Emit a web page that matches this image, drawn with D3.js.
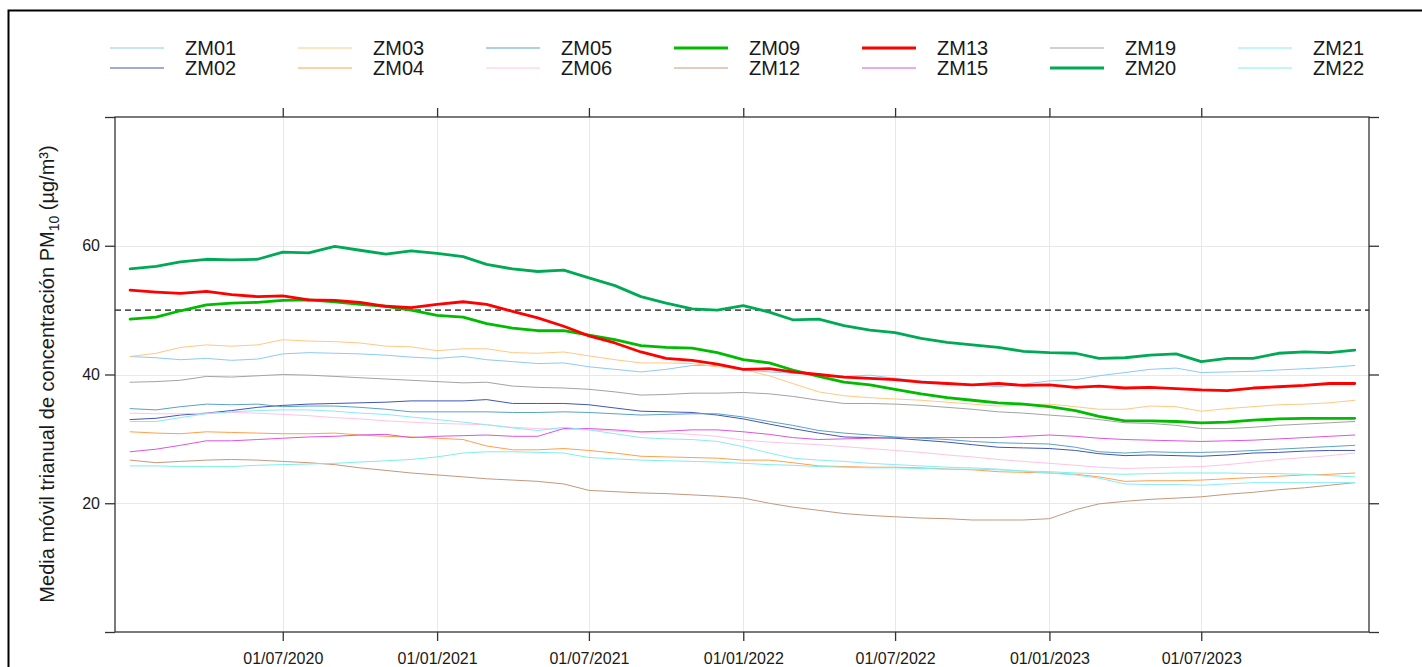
<!DOCTYPE html>
<html>
<head>
<meta charset="utf-8">
<script src="https://cdn.jsdelivr.net/npm/d3@7"></script>
<style>
  body { margin: 0; background: #fff; }
  svg { display: block; }
  text { font-family: "Liberation Sans", Arial, sans-serif; fill: #1a1a1a; }
</style>
</head>
<body>
<svg id="chart" width="1422" height="667"></svg>
<script>
// monthly samples, 1 Jan 2020 .. 1 Dec 2023, plus 31 Dec 2023
const dates = d3.timeMonth.range(new Date(2020, 0, 1), new Date(2024, 0, 1))
    .concat([new Date(2023, 11, 31)]);

const xTicks = ["2020-07-01", "2021-01-01", "2021-07-01", "2022-01-01", "2022-07-01", "2023-01-01", "2023-07-01"];
const yTicks = [20, 40, 60];
const limitValue = 50;

const zm01 = [42.8,42.6,42.3,42.5,42.2,42.4,43.2,43.4,43.3,43.2,43.0,42.7, 42.5,42.8,42.3,42.0,41.7,41.8,41.2,40.8,40.4,40.8,41.4,41.4, 40.7,40.4,40.2,39.9,39.7,39.9,39.4,39.0,38.7,38.4,38.1,38.5, 39.0,39.2,39.8,40.3,40.8,41.0,40.3,40.4,40.5,40.7,40.9,41.1, 41.4];
const zm02 = [33.0,33.2,33.7,34.0,34.4,34.9,35.2,35.4,35.5,35.6,35.7,35.9, 35.9,35.9,36.1,35.5,35.5,35.5,35.3,34.8,34.3,34.2,34.1,33.7, 33.1,32.3,31.6,30.9,30.3,30.2,30.1,29.8,29.5,29.1,28.7,28.6, 28.5,28.2,27.7,27.4,27.5,27.4,27.3,27.5,27.8,27.9,28.1,28.2, 28.2];
const zm03 = [42.8,43.3,44.2,44.6,44.4,44.6,45.4,45.2,45.1,44.9,44.4,44.3, 43.7,44.0,44.0,43.4,43.3,43.5,42.9,42.3,41.8,41.8,41.7,41.2, 40.8,39.8,38.6,37.3,36.7,36.4,36.2,36.0,35.7,35.4,35.1,35.3, 35.4,35.0,34.6,34.6,35.1,35.0,34.3,34.7,35.0,35.3,35.4,35.6, 36.0];
const zm04 = [31.1,30.9,30.8,31.1,31.0,30.9,30.8,30.8,30.9,30.6,30.4,30.3, 30.1,29.9,28.9,28.3,28.3,28.5,28.2,27.8,27.3,27.2,27.1,27.0, 26.7,26.7,26.3,25.8,25.7,25.6,25.6,25.5,25.3,25.2,24.9,24.8, 24.7,24.5,24.1,23.4,23.5,23.5,23.6,23.8,24.0,24.2,24.4,24.5, 24.7];
const zm05 = [34.7,34.5,35.0,35.4,35.3,35.4,35.0,35.1,35.1,34.9,34.6,34.2, 34.2,34.2,34.2,34.1,34.1,34.2,34.1,33.9,33.7,33.8,33.9,33.9, 33.4,32.7,32.1,31.3,30.9,30.6,30.3,30.1,29.9,29.6,29.4,29.3, 29.2,28.7,28.0,27.8,28.0,27.9,27.9,28.0,28.2,28.4,28.6,28.8, 29.0];
const zm06 = [34.0,33.9,33.9,34.0,34.1,34.0,33.8,33.6,33.3,33.1,32.8,32.6, 32.4,32.3,32.2,31.8,31.6,31.5,31.4,31.2,31.0,30.9,30.7,30.4, 29.8,29.5,29.3,29.1,28.8,28.5,28.2,27.9,27.5,27.2,26.8,26.5, 26.2,25.9,25.6,25.4,25.5,25.6,25.7,26.0,26.4,26.8,27.1,27.4, 27.8];
const zm09 = [48.6,48.9,49.9,50.8,51.1,51.2,51.5,51.6,51.3,50.9,50.6,50.0, 49.2,48.9,47.9,47.2,46.8,46.8,46.1,45.4,44.5,44.2,44.1,43.4, 42.3,41.8,40.7,39.7,38.8,38.4,37.7,37.0,36.4,36.0,35.6,35.4, 35.0,34.4,33.5,32.8,32.8,32.7,32.5,32.6,32.9,33.1,33.2,33.2, 33.2];
const zm12 = [26.7,26.3,26.5,26.7,26.8,26.7,26.5,26.3,26.0,25.5,25.1,24.7, 24.4,24.1,23.8,23.6,23.4,23.0,22.0,21.8,21.6,21.5,21.3,21.1, 20.8,20.0,19.4,18.9,18.4,18.1,17.9,17.7,17.6,17.4,17.4,17.4, 17.6,19.0,19.9,20.3,20.6,20.8,21.0,21.4,21.7,22.1,22.4,22.8, 23.2];
const zm13 = [53.1,52.8,52.6,52.9,52.4,52.1,52.2,51.6,51.5,51.2,50.6,50.4, 50.9,51.3,50.9,49.8,48.8,47.5,46.0,44.9,43.5,42.5,42.2,41.6, 40.8,40.9,40.4,40.0,39.6,39.4,39.2,38.8,38.6,38.4,38.6,38.3, 38.4,38.0,38.2,37.9,38.0,37.8,37.6,37.5,37.9,38.1,38.3,38.6, 38.6];
const zm15 = [28.0,28.4,29.0,29.7,29.7,29.9,30.1,30.3,30.4,30.6,30.7,30.2, 30.4,30.5,30.6,30.4,30.4,31.6,31.6,31.4,31.1,31.2,31.4,31.4, 31.1,30.7,30.2,29.9,30.0,30.1,30.2,30.2,30.2,30.2,30.2,30.4, 30.6,30.4,30.1,29.9,29.8,29.7,29.6,29.7,29.8,30.0,30.2,30.4, 30.6];
const zm19 = [38.8,38.9,39.1,39.7,39.6,39.8,40.0,39.9,39.7,39.5,39.3,39.1, 38.9,38.7,38.8,38.2,38.0,37.9,37.7,37.3,36.8,36.9,37.1,37.1, 37.2,37.0,36.6,36.0,35.5,35.5,35.4,35.2,34.9,34.6,34.2,34.0, 33.7,33.4,33.0,32.5,32.4,32.1,31.6,31.6,31.8,32.1,32.3,32.5, 32.7];
const zm20 = [56.4,56.8,57.5,57.9,57.8,57.9,59.0,58.9,59.9,59.3,58.7,59.2, 58.8,58.3,57.1,56.4,56.0,56.2,55.0,53.8,52.1,51.1,50.2,50.0, 50.7,49.7,48.5,48.6,47.6,46.9,46.5,45.6,45.0,44.6,44.2,43.6, 43.4,43.3,42.5,42.6,43.0,43.2,42.0,42.5,42.5,43.3,43.5,43.4, 43.8];
const zm21 = [32.7,32.7,33.3,33.9,34.2,34.4,34.5,34.5,34.3,34.0,33.8,33.4, 33.0,32.6,32.2,31.7,31.3,31.8,31.4,30.8,30.2,30.0,29.9,29.6, 28.8,27.8,27.0,26.7,26.5,26.2,26.0,25.8,25.6,25.5,25.3,25.0, 24.7,24.4,23.9,23.0,22.9,22.9,22.8,23.0,23.2,23.2,23.2,23.2, 23.2];
const zm22 = [25.8,25.8,25.7,25.7,25.7,25.9,26.0,26.1,26.2,26.4,26.6,26.8, 27.2,27.8,28.0,28.0,27.9,27.8,27.1,26.9,26.7,26.6,26.5,26.4, 26.2,26.0,25.9,25.7,25.6,25.5,25.5,25.4,25.3,25.3,25.2,25.0, 24.9,24.7,24.6,24.5,24.6,24.7,24.7,24.7,24.6,24.6,24.5,24.3, 24.1];

// legend is laid out column by column, two entries per column
const series = [
    { name: "ZM01", values: zm01, color: "#8ccbf5", width: 1 },
    { name: "ZM02", values: zm02, color: "#4256b4", width: 1 },
    { name: "ZM03", values: zm03, color: "#ffc982", width: 1 },
    { name: "ZM04", values: zm04, color: "#ffa04c", width: 1 },
    { name: "ZM05", values: zm05, color: "#5aa3c3", width: 1 },
    { name: "ZM06", values: zm06, color: "#ffc4e4", width: 1 },
    { name: "ZM09", values: zm09, color: "#00bb00", width: 2.8 },
    { name: "ZM12", values: zm12, color: "#c4987c", width: 1 },
    { name: "ZM13", values: zm13, color: "#ff0000", width: 2.8 },
    { name: "ZM15", values: zm15, color: "#dd55dd", width: 1 },
    { name: "ZM19", values: zm19, color: "#a3a3a3", width: 1 },
    { name: "ZM20", values: zm20, color: "#00aa55", width: 2.8 },
    { name: "ZM21", values: zm21, color: "#8ae9ff", width: 1 },
    { name: "ZM22", values: zm22, color: "#7eefea", width: 1 }
];

const svg = d3.select("#chart");
const plot = { left: 115, right: 1369, top: 117, bottom: 632 };

const x = d3.scaleTime()
    .domain([new Date(2019, 11, 14), new Date(2024, 0, 17)])
    .range([plot.left, plot.right]);
const y = d3.scaleLinear()
    .domain([0, 80])
    .range([plot.bottom, plot.top]);

const parse = d3.timeParse("%Y-%m-%d");
const fmt = d3.timeFormat("%d/%m/%Y");
const xTickDates = xTicks.map(parse);

// outer frame (only top and left edges are visible in the picture)
svg.append("path")
    .attr("d", "M8.5,667 V10.5 H1422")
    .attr("fill", "none")
    .attr("stroke", "#000")
    .attr("stroke-width", 2);

// grid
const grid = svg.append("g").attr("stroke", "#e8e8e8").attr("stroke-width", 1);
grid.selectAll(".gx").data(xTickDates).join("line")
    .attr("x1", d => Math.round(x(d)) + 0.5).attr("x2", d => Math.round(x(d)) + 0.5)
    .attr("y1", plot.top).attr("y2", plot.bottom);
grid.selectAll(".gy").data(yTicks).join("line")
    .attr("x1", plot.left).attr("x2", plot.right)
    .attr("y1", d => Math.round(y(d)) + 0.5).attr("y2", d => Math.round(y(d)) + 0.5);

// limit line
svg.append("line")
    .attr("x1", plot.left).attr("x2", plot.right)
    .attr("y1", y(limitValue)).attr("y2", y(limitValue))
    .attr("stroke", "#555").attr("stroke-width", 1.6)
    .attr("stroke-dasharray", "6,4");

// series
const line = d3.line()
    .x((d, i) => x(dates[i]))
    .y(d => y(d));

svg.append("g").selectAll("path").data(series).join("path")
    .attr("d", d => line(d.values))
    .attr("fill", "none")
    .attr("stroke", d => d.color)
    .attr("stroke-width", d => d.width)
    .attr("stroke-linejoin", "round")
    .attr("stroke-linecap", "round");

// axes: ticks on all four sides, labels bottom and left
const axisColor = "#333";
svg.append("g")
    .attr("transform", `translate(0,${plot.bottom})`)
    .call(d3.axisBottom(x).tickValues(xTickDates).tickFormat(fmt).tickSize(9).tickPadding(12))
    .call(g => g.select(".domain").remove());
svg.append("g")
    .attr("transform", `translate(0,${plot.top})`)
    .call(d3.axisTop(x).tickValues(xTickDates).tickFormat("").tickSize(9))
    .call(g => g.select(".domain").remove());
svg.append("g")
    .attr("transform", `translate(${plot.left},0)`)
    .call(d3.axisLeft(y).tickValues([0, 20, 40, 60, 80]).tickFormat(d => yTicks.includes(d) ? d : "").tickSize(10).tickPadding(5))
    .call(g => g.select(".domain").remove());
svg.append("g")
    .attr("transform", `translate(${plot.right},0)`)
    .call(d3.axisRight(y).tickValues([0, 20, 40, 60, 80]).tickFormat("").tickSize(10))
    .call(g => g.select(".domain").remove());

svg.selectAll(".tick line").attr("stroke", axisColor).attr("stroke-width", 1.3);
svg.selectAll(".tick text")
    .style("font-family", "'Liberation Sans', Arial, sans-serif")
    .style("font-size", "16px")
    .attr("fill", "#1a1a1a");

svg.append("rect")
    .attr("x", plot.left).attr("y", plot.top)
    .attr("width", plot.right - plot.left).attr("height", plot.bottom - plot.top)
    .attr("fill", "none").attr("stroke", axisColor).attr("stroke-width", 1.3);

// y axis title
const title = svg.append("text")
    .attr("transform", "translate(54,374) rotate(-90)")
    .attr("text-anchor", "middle")
    .style("font-size", "20px");
title.append("tspan").text("Media móvil trianual de concentración PM");
title.append("tspan").attr("dy", 5).style("font-size", "14px").text("10");
title.append("tspan").attr("dy", -5).text(" (µg/m³)");

// legend
const legend = svg.append("g");
const colStart = 110, colStep = 188, rowY = [48, 68];
const items = legend.selectAll("g").data(series).join("g")
    .attr("transform", (d, i) => `translate(${colStart + Math.floor(i / 2) * colStep},${rowY[i % 2]})`);
items.append("line")
    .attr("x1", 0).attr("x2", 54)
    .attr("stroke", d => d.color)
    .attr("stroke-width", d => d.width);
items.append("text")
    .attr("x", 75).attr("y", 7)
    .style("font-size", "20px")
    .text(d => d.name);
</script>
</body>
</html>
